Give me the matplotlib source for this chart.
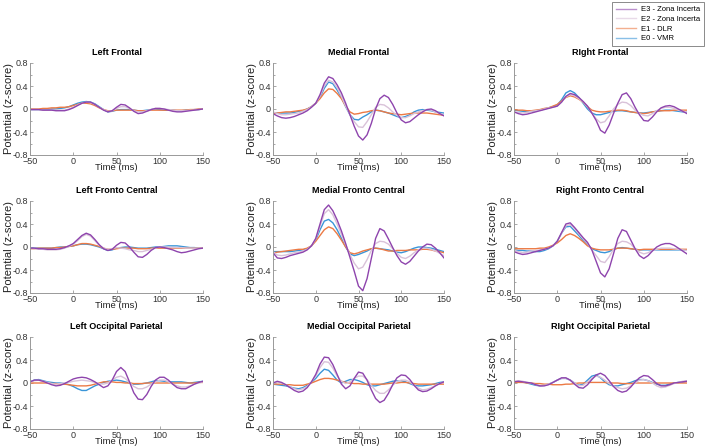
import numpy as np
import matplotlib
matplotlib.use('Agg')
import matplotlib.pyplot as plt
from matplotlib.ticker import MultipleLocator

plt.rcParams['font.family'] = ['Liberation Sans', 'DejaVu Sans']

# time axis (ms), one value every 5 ms
time_ms = list(range(-50, 151, 5))

series_labels = ['E3 - Zona Incerta', 'E2 - Zona Incerta', 'E1 - DLR', 'E0 - VMR']

# ---- Left Frontal ----
lf_e3 = [-0.01,-0.01,-0.01,-0.02,-0.02,-0.02,-0.03,-0.03,-0.03,-0.01,0.02,0.06,0.10,0.12,0.12,0.08,0.03,-0.02,-0.05,-0.03,0.03,0.08,0.07,0.02,-0.04,-0.08,-0.07,-0.04,-0.01,0.01,0.01,0.00,-0.02,-0.04,-0.05,-0.05,-0.04,-0.03,-0.02,-0.01,0.00]
lf_e2 = [-0.01,-0.01,-0.01,-0.02,-0.02,-0.02,-0.02,-0.02,-0.02,0.00,0.03,0.07,0.10,0.12,0.11,0.08,0.03,-0.01,-0.04,-0.03,0.01,0.04,0.04,0.01,-0.03,-0.05,-0.05,-0.03,-0.01,0.01,0.01,0.00,-0.01,-0.02,-0.03,-0.03,-0.03,-0.02,-0.02,-0.01,0.00]
lf_e1 = [0.00,0.00,0.00,0.01,0.01,0.02,0.02,0.03,0.03,0.04,0.06,0.08,0.10,0.10,0.09,0.06,0.02,-0.01,-0.03,-0.03,-0.02,-0.02,-0.02,-0.02,-0.02,-0.03,-0.03,-0.03,-0.02,-0.02,-0.02,-0.02,-0.02,-0.02,-0.02,-0.02,-0.02,-0.01,-0.01,0.00,0.00]
lf_e0 = [-0.01,-0.01,-0.01,-0.01,-0.01,0.00,0.00,0.01,0.02,0.04,0.07,0.10,0.12,0.13,0.12,0.09,0.04,-0.01,-0.05,-0.04,-0.02,-0.01,-0.01,-0.01,-0.02,-0.03,-0.03,-0.02,-0.01,0.00,-0.01,-0.02,-0.02,-0.02,-0.03,-0.03,-0.02,-0.02,-0.01,-0.01,0.00]

# ---- Medial Frontal ----
mf_e3 = [-0.08,-0.12,-0.15,-0.16,-0.15,-0.13,-0.10,-0.07,-0.03,0.03,0.10,0.25,0.45,0.56,0.53,0.42,0.28,0.10,-0.10,-0.30,-0.47,-0.54,-0.45,-0.25,0.00,0.18,0.24,0.20,0.08,-0.07,-0.19,-0.24,-0.22,-0.16,-0.10,-0.05,-0.01,0.00,-0.03,-0.08,-0.12]
mf_e2 = [-0.05,-0.08,-0.10,-0.10,-0.09,-0.08,-0.07,-0.04,-0.01,0.04,0.10,0.22,0.40,0.50,0.47,0.37,0.22,0.05,-0.10,-0.22,-0.31,-0.32,-0.22,-0.10,0.03,0.08,0.07,0.02,-0.05,-0.11,-0.15,-0.15,-0.12,-0.08,-0.05,-0.03,-0.01,-0.02,-0.05,-0.08,-0.10]
mf_e1 = [-0.08,-0.07,-0.06,-0.05,-0.05,-0.04,-0.03,-0.02,0.00,0.04,0.10,0.18,0.28,0.35,0.34,0.27,0.18,0.05,-0.05,-0.09,-0.08,-0.06,-0.05,-0.03,-0.02,-0.03,-0.05,-0.07,-0.08,-0.09,-0.10,-0.09,-0.08,-0.07,-0.07,-0.07,-0.07,-0.08,-0.09,-0.10,-0.11]
mf_e0 = [-0.07,-0.07,-0.07,-0.07,-0.07,-0.06,-0.04,-0.03,0.00,0.04,0.10,0.20,0.36,0.47,0.44,0.33,0.20,0.04,-0.10,-0.18,-0.19,-0.14,-0.10,-0.05,-0.02,-0.03,-0.05,-0.07,-0.10,-0.13,-0.15,-0.13,-0.10,-0.05,-0.02,-0.01,-0.02,-0.03,-0.05,-0.06,-0.07]

# ---- Right Frontal ----
rf_e3 = [-0.05,-0.08,-0.10,-0.09,-0.07,-0.05,-0.03,-0.01,0.01,0.03,0.05,0.12,0.22,0.27,0.25,0.20,0.13,0.05,-0.07,-0.20,-0.37,-0.42,-0.28,-0.08,0.10,0.25,0.28,0.18,0.03,-0.10,-0.20,-0.21,-0.14,-0.05,0.02,0.05,0.06,0.04,0.00,-0.04,-0.08]
rf_e2 = [-0.05,-0.06,-0.07,-0.06,-0.04,-0.03,-0.02,0.00,0.02,0.03,0.05,0.12,0.21,0.25,0.23,0.18,0.12,0.04,-0.07,-0.17,-0.24,-0.22,-0.12,0.00,0.08,0.12,0.11,0.06,-0.02,-0.08,-0.11,-0.12,-0.08,-0.03,0.01,0.03,0.03,0.01,-0.02,-0.04,-0.05]
rf_e1 = [-0.01,-0.02,-0.02,-0.03,-0.03,-0.02,-0.01,0.01,0.02,0.05,0.08,0.14,0.20,0.23,0.21,0.17,0.12,0.04,-0.02,-0.04,-0.05,-0.05,-0.04,-0.03,-0.02,-0.02,-0.03,-0.05,-0.06,-0.07,-0.08,-0.07,-0.05,-0.04,-0.03,-0.03,-0.03,-0.02,-0.02,-0.02,-0.02]
rf_e0 = [-0.02,-0.03,-0.04,-0.05,-0.04,-0.03,-0.02,0.00,0.02,0.04,0.07,0.16,0.28,0.32,0.28,0.20,0.10,0.00,-0.07,-0.10,-0.10,-0.08,-0.06,-0.04,-0.03,-0.03,-0.04,-0.05,-0.06,-0.07,-0.07,-0.06,-0.05,-0.04,-0.03,-0.02,-0.02,-0.03,-0.04,-0.05,-0.05]

# ---- Left Fronto Central ----
lfc_e3 = [-0.02,-0.02,-0.03,-0.03,-0.04,-0.04,-0.04,-0.03,-0.01,0.02,0.06,0.13,0.20,0.24,0.21,0.13,0.04,-0.03,-0.06,-0.04,0.03,0.08,0.07,0.00,-0.09,-0.17,-0.18,-0.13,-0.06,-0.01,0.00,-0.01,-0.03,-0.05,-0.08,-0.10,-0.09,-0.07,-0.05,-0.03,-0.02]
lfc_e2 = [-0.02,-0.03,-0.04,-0.04,-0.05,-0.05,-0.05,-0.04,-0.02,0.01,0.05,0.11,0.18,0.22,0.19,0.11,0.03,-0.02,-0.04,-0.03,-0.01,-0.02,-0.03,-0.05,-0.06,-0.08,-0.08,-0.06,-0.04,-0.02,0.00,0.00,0.00,-0.01,-0.01,-0.01,-0.02,-0.02,-0.02,-0.02,-0.02]
lfc_e1 = [-0.03,-0.03,-0.02,-0.02,-0.02,-0.02,-0.01,-0.01,0.00,0.01,0.02,0.04,0.06,0.06,0.05,0.03,0.01,-0.02,-0.04,-0.04,-0.03,-0.02,-0.02,-0.02,-0.02,-0.03,-0.03,-0.03,-0.02,-0.02,-0.02,-0.02,-0.02,-0.02,-0.02,-0.02,-0.02,-0.02,-0.02,-0.02,-0.02]
lfc_e0 = [-0.02,-0.02,-0.02,-0.02,-0.02,-0.02,-0.01,0.00,0.00,0.01,0.02,0.04,0.05,0.05,0.04,0.02,0.00,-0.03,-0.06,-0.05,-0.02,-0.01,0.00,0.00,-0.01,-0.02,-0.02,-0.02,-0.01,0.00,0.00,0.01,0.02,0.02,0.02,0.01,0.00,-0.01,-0.01,-0.02,-0.02]

# ---- Medial Fronto Central ----
mfc_e3 = [-0.10,-0.19,-0.20,-0.18,-0.15,-0.13,-0.11,-0.09,-0.05,0.02,0.15,0.40,0.65,0.73,0.63,0.47,0.28,0.06,-0.18,-0.42,-0.68,-0.76,-0.55,-0.20,0.15,0.32,0.28,0.14,-0.01,-0.15,-0.26,-0.30,-0.25,-0.16,-0.07,0.00,0.05,0.04,-0.02,-0.10,-0.19]
mfc_e2 = [-0.08,-0.14,-0.15,-0.14,-0.12,-0.10,-0.09,-0.07,-0.04,0.02,0.14,0.36,0.58,0.65,0.56,0.40,0.22,0.04,-0.13,-0.28,-0.38,-0.35,-0.22,-0.06,0.06,0.10,0.09,0.05,-0.03,-0.11,-0.18,-0.20,-0.16,-0.10,-0.05,-0.02,-0.02,-0.04,-0.07,-0.11,-0.15]
mfc_e1 = [-0.10,-0.09,-0.08,-0.07,-0.06,-0.05,-0.04,-0.04,-0.02,0.02,0.10,0.20,0.30,0.35,0.32,0.23,0.12,0.00,-0.10,-0.12,-0.10,-0.07,-0.05,-0.03,-0.02,-0.03,-0.05,-0.07,-0.07,-0.06,-0.06,-0.06,-0.05,-0.05,-0.05,-0.04,-0.04,-0.05,-0.07,-0.08,-0.10]
mfc_e0 = [-0.08,-0.08,-0.08,-0.08,-0.08,-0.07,-0.06,-0.05,-0.03,0.02,0.12,0.30,0.45,0.48,0.42,0.30,0.15,0.00,-0.12,-0.15,-0.13,-0.10,-0.07,-0.03,-0.02,-0.03,-0.04,-0.05,-0.07,-0.09,-0.10,-0.08,-0.05,-0.02,0.00,0.00,-0.01,-0.02,-0.04,-0.06,-0.08]

# ---- Right Fronto Central ----
rfc_e3 = [-0.08,-0.11,-0.13,-0.12,-0.10,-0.08,-0.06,-0.04,-0.02,0.02,0.10,0.25,0.40,0.42,0.34,0.25,0.16,0.08,-0.05,-0.25,-0.45,-0.52,-0.38,-0.12,0.15,0.30,0.27,0.12,-0.03,-0.15,-0.20,-0.15,-0.07,0.00,0.04,0.06,0.06,0.03,-0.02,-0.07,-0.12]
rfc_e2 = [-0.06,-0.08,-0.10,-0.09,-0.07,-0.06,-0.05,-0.04,-0.02,0.02,0.10,0.24,0.37,0.39,0.32,0.23,0.14,0.06,-0.05,-0.15,-0.25,-0.27,-0.17,-0.04,0.06,0.10,0.09,0.05,-0.03,-0.09,-0.12,-0.10,-0.06,-0.04,-0.02,-0.02,-0.02,-0.03,-0.04,-0.05,-0.06]
rfc_e1 = [-0.03,-0.03,-0.03,-0.03,-0.03,-0.03,-0.02,-0.02,0.00,0.03,0.07,0.13,0.20,0.23,0.20,0.15,0.09,0.02,-0.02,-0.04,-0.05,-0.05,-0.05,-0.04,-0.02,-0.02,-0.02,-0.03,-0.04,-0.05,-0.04,-0.04,-0.04,-0.04,-0.04,-0.04,-0.04,-0.04,-0.04,-0.04,-0.04]
rfc_e0 = [-0.05,-0.06,-0.06,-0.07,-0.07,-0.08,-0.08,-0.06,-0.03,0.02,0.10,0.24,0.35,0.36,0.28,0.20,0.11,0.04,-0.03,-0.06,-0.09,-0.10,-0.08,-0.04,-0.02,-0.01,-0.02,-0.03,-0.04,-0.05,-0.05,-0.05,-0.05,-0.05,-0.05,-0.05,-0.05,-0.05,-0.05,-0.05,-0.05]

# ---- Left Occipital Parietal ----
lop_e3 = [0.02,0.05,0.05,0.03,0.00,-0.03,-0.05,-0.04,-0.01,0.03,0.07,0.09,0.10,0.09,0.06,0.02,-0.03,-0.08,-0.05,0.05,0.20,0.27,0.20,0.02,-0.17,-0.28,-0.29,-0.20,-0.06,0.05,0.10,0.10,0.05,-0.02,-0.08,-0.10,-0.10,-0.06,-0.02,0.01,0.03]
lop_e2 = [0.02,0.04,0.05,0.03,0.01,-0.01,-0.02,-0.01,0.00,0.01,0.03,0.04,0.05,0.04,0.03,0.01,-0.01,-0.02,0.00,0.05,0.10,0.12,0.08,0.01,-0.06,-0.10,-0.10,-0.07,-0.02,0.02,0.05,0.05,0.02,-0.02,-0.05,-0.07,-0.07,-0.05,-0.02,0.00,0.02]
lop_e1 = [0.00,0.00,0.00,0.00,0.00,-0.01,-0.01,-0.02,-0.02,-0.03,-0.04,-0.05,-0.05,-0.05,-0.04,-0.02,0.00,0.02,0.02,0.02,0.01,0.01,0.00,0.00,-0.01,-0.01,-0.01,0.00,0.00,0.00,0.00,0.00,0.00,0.00,0.00,0.00,0.00,0.00,0.00,0.01,0.01]
lop_e0 = [0.02,0.05,0.06,0.04,0.02,0.01,0.00,0.00,-0.01,-0.03,-0.06,-0.10,-0.13,-0.13,-0.09,-0.05,-0.02,0.01,0.03,0.04,0.05,0.04,0.02,0.00,-0.02,-0.02,-0.01,0.00,0.02,0.04,0.04,0.03,0.02,0.02,0.02,0.02,0.01,0.00,0.01,0.02,0.03]

# ---- Medial Occipital Parietal ----
mop_e3 = [0.00,0.03,0.01,-0.03,-0.08,-0.13,-0.16,-0.14,-0.08,0.02,0.15,0.33,0.45,0.44,0.32,0.15,-0.02,-0.10,-0.05,0.08,0.19,0.17,0.05,-0.12,-0.27,-0.34,-0.30,-0.18,-0.03,0.09,0.14,0.13,0.06,-0.04,-0.12,-0.15,-0.14,-0.10,-0.05,-0.01,0.02]
mop_e2 = [0.00,0.01,0.00,-0.03,-0.07,-0.10,-0.12,-0.10,-0.06,0.02,0.12,0.27,0.37,0.36,0.26,0.12,0.03,-0.01,0.02,0.08,0.12,0.12,0.06,-0.04,-0.13,-0.18,-0.18,-0.12,-0.04,0.03,0.05,0.05,0.02,-0.04,-0.09,-0.12,-0.11,-0.08,-0.04,-0.01,0.02]
mop_e1 = [-0.02,-0.02,-0.02,-0.03,-0.03,-0.04,-0.04,-0.04,-0.02,0.00,0.03,0.06,0.08,0.08,0.07,0.05,0.03,0.01,0.00,-0.01,-0.01,-0.02,-0.02,-0.02,-0.02,-0.02,-0.02,-0.01,0.00,0.00,0.01,0.01,0.00,-0.01,-0.02,-0.02,-0.02,-0.02,-0.02,-0.02,-0.02]
mop_e0 = [-0.02,-0.03,-0.04,-0.05,-0.07,-0.09,-0.10,-0.08,-0.04,0.01,0.08,0.17,0.24,0.22,0.14,0.05,0.00,0.03,0.06,0.06,0.04,0.01,-0.03,-0.05,-0.05,-0.03,-0.01,0.01,0.03,0.04,0.04,0.02,-0.01,-0.04,-0.05,-0.05,-0.04,-0.03,-0.01,0.01,0.02]

# ---- Right Occipital Parietal ----
rop_e3 = [0.02,0.03,0.02,0.01,0.00,-0.03,-0.05,-0.05,-0.03,0.01,0.05,0.09,0.09,0.05,-0.02,-0.08,-0.09,-0.03,0.06,0.14,0.17,0.13,0.04,-0.06,-0.13,-0.16,-0.14,-0.07,0.02,0.09,0.13,0.12,0.06,-0.01,-0.05,-0.05,-0.03,0.00,0.01,0.02,0.03]
rop_e2 = [0.03,0.04,0.03,0.01,0.00,-0.03,-0.05,-0.04,-0.02,0.01,0.05,0.08,0.08,0.05,0.00,-0.05,-0.04,0.02,0.08,0.12,0.10,0.05,-0.01,-0.05,-0.08,-0.10,-0.09,-0.05,0.00,0.05,0.06,0.04,0.00,-0.05,-0.08,-0.07,-0.04,-0.01,0.01,0.03,0.04]
rop_e1 = [0.01,0.01,0.01,0.00,0.00,-0.01,-0.01,-0.02,-0.02,-0.03,-0.03,-0.03,-0.02,-0.02,-0.01,0.00,0.00,0.01,0.01,0.01,0.01,0.01,0.00,0.00,0.00,-0.01,-0.01,-0.01,0.00,0.00,0.00,0.00,0.00,0.00,0.00,0.00,0.00,0.00,0.00,0.00,0.00]
rop_e0 = [0.02,0.02,0.02,0.00,-0.02,-0.04,-0.05,-0.04,-0.02,0.01,0.05,0.08,0.08,0.05,0.00,-0.04,-0.02,0.05,0.12,0.14,0.09,0.02,-0.03,-0.05,-0.05,-0.03,-0.01,0.01,0.04,0.06,0.06,0.04,0.01,-0.02,-0.04,-0.04,-0.02,0.00,0.01,0.02,0.03]

panel_titles = ['Left Frontal', 'Medial Frontal', 'RIght Frontal',
                'Left Fronto Central', 'Medial Fronto Central', 'Right Fronto Central',
                'Left Occipital Parietal', 'Medial Occipital Parietal', 'RIght Occipital Parietal']
panel_data = [
    (lf_e3, lf_e2, lf_e1, lf_e0), (mf_e3, mf_e2, mf_e1, mf_e0), (rf_e3, rf_e2, rf_e1, rf_e0),
    (lfc_e3, lfc_e2, lfc_e1, lfc_e0), (mfc_e3, mfc_e2, mfc_e1, mfc_e0), (rfc_e3, rfc_e2, rfc_e1, rfc_e0),
    (lop_e3, lop_e2, lop_e1, lop_e0), (mop_e3, mop_e2, mop_e1, mop_e0), (rop_e3, rop_e2, rop_e1, rop_e0),
]

# E3, E2, E1, E0
colors = ['#8E44AD', '#D9C2D9', '#EC7A45', '#3A95D8']

W, H = 708, 447
fig = plt.figure(figsize=(W / 100, H / 100), dpi=100)

col_x = [(30, 203), (273, 444), (514, 687)]   # pixel left/right of each column
row_y = [(63, 155), (201, 293), (337, 429)]   # pixel top/bottom of each row

lines = None
for k, title in enumerate(panel_titles):
    r, c = divmod(k, 3)
    x0, x1 = col_x[c]
    y0, y1 = row_y[r]
    ax = fig.add_axes([x0 / W, 1 - y1 / H, (x1 - x0) / W, (y1 - y0) / H])
    t = np.array(time_ms)
    hs = []
    # draw E0 first so E3 ends on top
    for vals, col in zip(reversed(panel_data[k]), reversed(colors)):
        h, = ax.plot(t, vals, color=col, lw=1.0)
        hs.append(h)
    if lines is None:
        lines = hs[::-1]
    ax.set_xlim(-50, 150)
    ax.set_ylim(-0.8, 0.8)
    ax.set_xticks([-50, 0, 50, 100, 150])
    ax.set_yticks([-0.8, -0.4, 0, 0.4, 0.8])
    ax.set_yticklabels(['-0.8', '-0.4', '0', '0.4', '0.8'])
    ax.yaxis.set_minor_locator(MultipleLocator(0.2))
    ax.tick_params(direction='in', length=2.5, width=0.6, labelsize=6.5,
                   colors='#999999', labelcolor='#333333', pad=1.5)
    ax.tick_params(which='minor', direction='in', length=1.5, width=0.6, colors='#999999')
    for s in ['top', 'right']:
        ax.spines[s].set_visible(False)
    for s in ['left', 'bottom']:
        ax.spines[s].set_color('#999999')
        ax.spines[s].set_linewidth(0.7)
    ax.set_title(title, fontsize=6.5, fontweight='bold', pad=6)
    ax.set_xlabel('Time (ms)', fontsize=6.8, labelpad=-2, color='#222222')
    ax.set_ylabel('Potential (z-score)', fontsize=8, labelpad=-1, color='#222222')

leg = fig.legend(lines, series_labels, loc='upper right', bbox_to_anchor=(0.997, 1.0),
                 fontsize=5.5, handlelength=2.6, frameon=True, fancybox=False,
                 borderpad=0.5, labelspacing=0.3, handletextpad=0.6, borderaxespad=0.3)
leg.get_frame().set_edgecolor('#555555')
leg.get_frame().set_linewidth(0.6)
for lh in leg.get_lines():
    lh.set_alpha(0.6)

fig.savefig('out.png', dpi=100)
